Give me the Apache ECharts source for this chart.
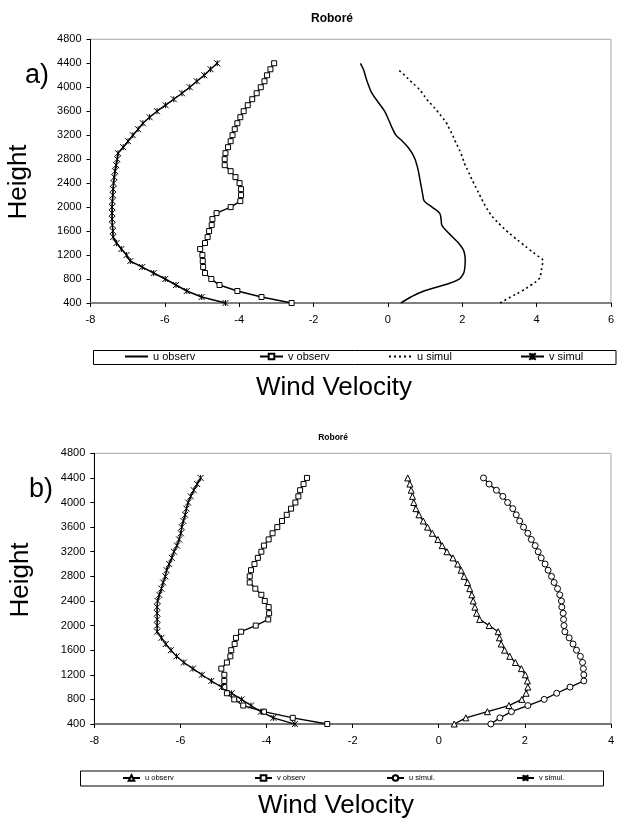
<!DOCTYPE html>
<html><head><meta charset="utf-8">
<script src="https://cdn.jsdelivr.net/npm/echarts@6/dist/echarts.min.js"></script>
<style>html,body{margin:0;padding:0;background:#fff}#c{width:617px;height:832px}</style>
</head><body><div id="c"></div>
<script>
// Heights (m), bottom to top
const heights = [400,500,600,700,800,900,1000,1100,1200,1300,1400,1500,1600,1700,1800,1900,2000,2100,2200,2300,2400,2500,2600,2700,2800,2900,3000,3100,3200,3300,3400,3500,3600,3700,3800,3900,4000,4100,4200,4300,4400];
const heightsSimA = [400,500,600,700,800,900,1000,1100,1200,1300,1400,1500,1600,1700,1800,1900,2000,2100,2200,2300,2400,2500,2600,2700,2800,2900,3000,3100,3200,3300,3400,3500,3600,3700,3800,3900,4000,4100,4200,4300];

// Chart a)
const uObsA = [0.35,0.62,0.97,1.51,1.92,2.04,2.07,2.08,2.07,2.02,1.90,1.74,1.58,1.45,1.43,1.39,1.19,0.98,0.94,0.91,0.88,0.85,0.82,0.78,0.73,0.65,0.54,0.39,0.22,0.13,0.06,-0.01,-0.09,-0.20,-0.32,-0.43,-0.50,-0.56,-0.61,-0.66,-0.74];
const vObsA = [-2.59,-3.40,-4.05,-4.53,-4.75,-4.92,-4.97,-4.98,-4.99,-5.05,-4.92,-4.85,-4.81,-4.74,-4.72,-4.61,-4.23,-3.97,-3.95,-3.95,-3.99,-4.10,-4.23,-4.39,-4.39,-4.37,-4.30,-4.23,-4.18,-4.12,-4.05,-3.97,-3.88,-3.77,-3.65,-3.53,-3.42,-3.32,-3.25,-3.16,-3.06];
const uSimA = [3.02,3.30,3.60,3.85,4.06,4.12,4.14,4.17,4.00,3.79,3.59,3.39,3.20,3.03,2.87,2.74,2.64,2.55,2.47,2.39,2.31,2.23,2.16,2.08,2.02,1.96,1.89,1.81,1.74,1.66,1.58,1.46,1.33,1.19,1.04,0.93,0.79,0.61,0.45,0.26];
const vSimA = [-4.37,-5.01,-5.41,-5.70,-5.99,-6.30,-6.61,-6.93,-7.03,-7.17,-7.30,-7.39,-7.40,-7.41,-7.42,-7.42,-7.42,-7.41,-7.40,-7.39,-7.38,-7.36,-7.34,-7.31,-7.28,-7.26,-7.12,-6.99,-6.86,-6.72,-6.59,-6.41,-6.21,-5.98,-5.76,-5.54,-5.33,-5.14,-4.94,-4.77,-4.59];

// Chart b)
const uObsB = [0.36,0.63,1.13,1.63,1.93,2.03,2.07,2.06,2.01,1.92,1.78,1.65,1.53,1.45,1.41,1.38,1.17,0.95,0.88,0.84,0.80,0.77,0.72,0.67,0.59,0.52,0.44,0.33,0.19,0.08,-0.02,-0.15,-0.26,-0.36,-0.46,-0.53,-0.58,-0.61,-0.64,-0.67,-0.72];
const vObsB = [-2.59,-3.39,-4.06,-4.54,-4.75,-4.92,-4.98,-4.98,-4.98,-5.05,-4.92,-4.84,-4.82,-4.74,-4.71,-4.59,-4.25,-3.96,-3.94,-3.95,-4.04,-4.12,-4.26,-4.39,-4.39,-4.36,-4.28,-4.20,-4.12,-4.06,-3.95,-3.86,-3.75,-3.64,-3.53,-3.43,-3.33,-3.26,-3.22,-3.14,-3.06];
const uSimB = [1.21,1.42,1.69,2.07,2.45,2.74,3.05,3.37,3.37,3.36,3.34,3.29,3.20,3.12,3.03,2.93,2.91,2.90,2.89,2.86,2.85,2.81,2.76,2.68,2.62,2.54,2.47,2.38,2.31,2.24,2.15,2.07,1.97,1.88,1.80,1.72,1.60,1.49,1.34,1.17,1.04];
const vSimB = [-3.34,-3.84,-4.13,-4.36,-4.58,-4.81,-5.04,-5.28,-5.50,-5.71,-5.92,-6.09,-6.22,-6.34,-6.44,-6.54,-6.54,-6.54,-6.54,-6.54,-6.53,-6.49,-6.44,-6.40,-6.35,-6.32,-6.26,-6.20,-6.15,-6.08,-6.03,-5.99,-5.97,-5.93,-5.89,-5.86,-5.82,-5.76,-5.69,-5.61,-5.53];

const namesA = ['u observ','v observ','u simul','v simul'];
const namesB = ['u observ','v observ','u simul.','v simul.'];
const titleText = 'Roboré';
const xName = 'Wind Velocity';
const yName = 'Height';

const FF = '"Liberation Sans", Arial, sans-serif';
const STAR = 'path://M0,0L10,10M10,0L0,10M5,0L5,10';
const pair = (vals, hs) => hs.map((h, i) => [vals[i], h]);

const chart = echarts.init(document.getElementById('c'), null, {renderer: 'canvas'});

function xAx(grid, min, max, lineColor, lineWidth) {
  return {gridIndex: grid, type: 'value', min: min, max: max, interval: 2,
    axisLine: {show: true, onZero: false, lineStyle: {color: lineColor, width: lineWidth}},
    axisTick: {show: true, length: 4, lineStyle: {color: '#000'}},
    axisLabel: {fontSize: 11, margin: 11, color: '#000', fontFamily: FF, formatter: v => String(v)},
    splitLine: {show: false}};
}
function yAx(grid) {
  return {gridIndex: grid, type: 'value', min: 400, max: 4800, interval: 400,
    axisLine: {show: true, onZero: false, lineStyle: {color: '#000', width: 1}},
    axisTick: {show: true, length: 4, lineStyle: {color: '#000'}},
    axisLabel: {fontSize: 11, margin: 9, color: '#000', fontFamily: FF, formatter: v => String(v)},
    splitLine: {show: false}};
}
const hollow = {color: '#fff', borderColor: '#000', borderWidth: 1};
function ser(name, data, g, opts) {
  return Object.assign({type: 'line', name: name, xAxisIndex: g, yAxisIndex: g, data: data,
    color: '#000', animation: false, z: 3,
    lineStyle: {color: '#000', width: 1.5},
    itemStyle: {color: '#000', borderColor: '#000', borderWidth: 1}}, opts);
}
function leg(name, display, left, top, w, h, fs, extra) {
  return {data: [Object.assign({name: name}, extra || {})], left: left, top: top, itemWidth: w, itemHeight: h,
    padding: 0, selectedMode: false, itemGap: 0,
    formatter: () => display,
    textStyle: {fontSize: fs, color: '#000', fontFamily: FF}};
}

const option = {
  backgroundColor: '#fff',
  animation: false,
  grid: [
    {left: 90.5, top: 39.3, width: 524.5, height: 263.7, show: true, borderColor: '#a8a8a8', borderWidth: 1, containLabel: false},
    {left: 94.3, top: 453.3, width: 522.4, height: 270.7, show: true, borderColor: '#a8a8a8', borderWidth: 1, containLabel: false}
  ],
  xAxis: [xAx(0, -8, 6, '#808080', 2), xAx(1, -8, 4, '#555', 1.5)],
  yAxis: [yAx(0), yAx(1)],
  legend: [
    leg('A:' + namesA[0], namesA[0], 124, 351, 23, 8, 11, {itemStyle: {opacity: 0}}),
    leg('A:' + namesA[1], namesA[1], 259, 351, 23, 7, 11),
    leg('A:' + namesA[2], namesA[2], 388, 351, 23, 8, 11, {itemStyle: {opacity: 0}}),
    leg('A:' + namesA[3], namesA[3], 520, 351, 23, 8, 11),
    leg('B:' + namesB[0], namesB[0], 122, 774, 17, 7, 7.5),
    leg('B:' + namesB[1], namesB[1], 254, 774, 17, 7, 7.5),
    leg('B:' + namesB[2], namesB[2], 386, 774, 17, 7, 7.5),
    leg('B:' + namesB[3], namesB[3], 516, 774, 17, 7, 7.5)
  ],
  series: [
    ser('A:' + namesA[0], pair(uObsA, heights), 0, {symbol: 'none', smooth: 0.4}),
    ser('A:' + namesA[1], pair(vObsA, heights), 0, {symbol: 'rect', symbolSize: 5, itemStyle: hollow}),
    ser('A:' + namesA[2], pair(uSimA, heightsSimA), 0, {symbol: 'none', smooth: 0.4, lineStyle: {color: '#000', width: 1.6, type: [2, 3]}}),
    ser('A:' + namesA[3], pair(vSimA, heights), 0, {symbol: STAR, symbolSize: 6}),
    ser('B:' + namesB[0], pair(uObsB, heights), 1, {symbol: 'triangle', symbolSize: 6, lineStyle: {color: '#000', width: 1.3}, itemStyle: hollow}),
    ser('B:' + namesB[1], pair(vObsB, heights), 1, {symbol: 'rect', symbolSize: 5, lineStyle: {color: '#000', width: 1.3}, itemStyle: hollow}),
    ser('B:' + namesB[2], pair(uSimB, heights), 1, {symbol: 'circle', symbolSize: 6, lineStyle: {color: '#000', width: 1.3}, itemStyle: hollow}),
    ser('B:' + namesB[3], pair(vSimB, heights), 1, {symbol: STAR, symbolSize: 6, lineStyle: {color: '#000', width: 1.3}})
  ],
  graphic: [
    {type: 'rect', shape: {x: 93.5, y: 350.5, width: 522.5, height: 14}, style: {fill: 'none', stroke: '#000', lineWidth: 1}, z: 1},
    {type: 'rect', shape: {x: 80.5, y: 771, width: 523, height: 15}, style: {fill: 'none', stroke: '#000', lineWidth: 1}, z: 1},
    {type: 'text', x: 332, y: 19, style: {text: titleText, font: 'bold 12px ' + FF, fill: '#000', textAlign: 'center', textVerticalAlign: 'middle'}},
    {type: 'text', x: 333, y: 437.5, style: {text: titleText, font: 'bold 8.5px ' + FF, fill: '#000', textAlign: 'center', textVerticalAlign: 'middle'}},
    {type: 'text', x: 37, y: 76, style: {text: 'a)', font: '27px ' + FF, fill: '#000', textAlign: 'center', textVerticalAlign: 'middle'}},
    {type: 'text', x: 41, y: 490, style: {text: 'b)', font: '27px ' + FF, fill: '#000', textAlign: 'center', textVerticalAlign: 'middle'}},
    {type: 'text', x: 19, y: 182, rotation: Math.PI / 2, style: {text: yName, font: '26px ' + FF, fill: '#000', textAlign: 'center', textVerticalAlign: 'middle'}},
    {type: 'text', x: 20.5, y: 580, rotation: Math.PI / 2, style: {text: yName, font: '26px ' + FF, fill: '#000', textAlign: 'center', textVerticalAlign: 'middle'}},
    {type: 'text', x: 334, y: 388, style: {text: xName, font: '26px ' + FF, fill: '#000', textAlign: 'center', textVerticalAlign: 'middle'}},
    {type: 'text', x: 336, y: 806, style: {text: xName, font: '26px ' + FF, fill: '#000', textAlign: 'center', textVerticalAlign: 'middle'}}
  ]
};
chart.setOption(option);
</script>
</body></html>
